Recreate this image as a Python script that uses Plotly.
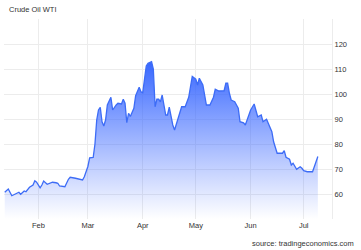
import plotly.graph_objects as go

# Crude Oil WTI daily prices
dates = [
    "2022-01-13", "2022-01-15", "2022-01-17", "2022-01-19", "2022-01-21", "2022-01-22",
    "2022-01-24", "2022-01-25", "2022-01-27", "2022-01-29", "2022-01-30", "2022-01-31",
    "2022-02-02", "2022-02-03", "2022-02-04", "2022-02-06", "2022-02-08", "2022-02-09",
    "2022-02-11", "2022-02-12", "2022-02-13", "2022-02-16", "2022-02-18", "2022-02-19",
    "2022-02-22", "2022-02-24", "2022-02-26", "2022-02-27", "2022-03-01", "2022-03-02",
    "2022-03-04", "2022-03-05", "2022-03-06", "2022-03-07", "2022-03-08", "2022-03-09",
    "2022-03-10", "2022-03-11", "2022-03-12", "2022-03-14", "2022-03-15", "2022-03-17",
    "2022-03-18", "2022-03-20", "2022-03-21", "2022-03-22", "2022-03-23", "2022-03-24",
    "2022-03-25", "2022-03-27", "2022-03-28", "2022-03-30", "2022-03-31", "2022-04-01",
    "2022-04-03", "2022-04-04", "2022-04-06", "2022-04-07", "2022-04-08", "2022-04-09",
    "2022-04-10", "2022-04-11", "2022-04-12", "2022-04-14", "2022-04-15", "2022-04-16",
    "2022-04-18", "2022-04-19", "2022-04-21", "2022-04-23", "2022-04-25", "2022-04-27",
    "2022-04-28", "2022-04-29", "2022-05-01", "2022-05-02", "2022-05-03", "2022-05-05",
    "2022-05-07", "2022-05-09", "2022-05-11", "2022-05-12", "2022-05-14", "2022-05-16",
    "2022-05-17", "2022-05-18", "2022-05-19", "2022-05-20", "2022-05-21", "2022-05-23",
    "2022-05-25", "2022-05-26", "2022-05-28", "2022-05-29", "2022-05-31", "2022-06-01",
    "2022-06-03", "2022-06-04", "2022-06-05", "2022-06-07", "2022-06-08", "2022-06-10",
    "2022-06-11", "2022-06-13", "2022-06-14", "2022-06-16", "2022-06-18", "2022-06-19",
    "2022-06-20", "2022-06-21", "2022-06-23", "2022-06-24", "2022-06-25", "2022-06-26",
    "2022-06-27", "2022-06-29", "2022-06-30", "2022-07-01", "2022-07-03", "2022-07-05",
    "2022-07-06", "2022-07-07", "2022-07-09",
]
prices = [
    60.7, 62.0, 59.3, 59.9, 60.7, 59.9,
    61.2, 60.9, 62.7, 63.6, 65.3, 64.7,
    62.5, 63.6, 65.2, 63.9, 64.3, 64.7,
    64.5, 64.3, 63.2, 62.9, 65.9, 66.7,
    66.3, 65.9, 65.6, 66.9, 71.0, 74.5,
    74.6, 80.0, 89.6, 93.6, 94.7, 88.9,
    87.2, 89.6, 95.6, 98.7, 93.6, 95.6,
    96.3, 96.0, 97.9, 96.3, 88.5, 92.3,
    91.0, 94.3, 99.3, 102.7, 100.9, 100.5,
    111.2, 112.3, 112.9, 110.0, 94.9, 97.9,
    97.9, 96.9, 99.6, 91.6, 91.6, 94.7,
    87.6, 85.6, 90.3, 94.9, 94.9, 98.7,
    102.9, 107.0, 105.9, 103.6, 106.3, 103.6,
    95.6, 95.6, 98.7, 101.9, 101.2, 101.2,
    101.3, 104.3, 104.3, 100.3, 97.6, 96.9,
    94.3, 88.9, 88.5, 87.6, 91.6, 93.6,
    96.0, 93.6, 90.9, 91.6, 88.9, 89.9,
    88.0, 84.9, 80.9, 76.3, 76.3, 76.3,
    77.3, 74.7, 73.9, 71.6, 72.3, 70.9,
    69.9, 70.9, 70.3, 69.3, 68.9, 68.9,
    68.9, 70.9, 75.0,
]
y_ticks = [50, 60, 70, 80, 90, 100, 110, 120, 130]
y_labels = ["", "60", "70", "80", "90", "100", "110", "120", ""]

FONT = "Liberation Sans, Arial, sans-serif"
TXT = "#333333"
GRID = "#ececec"

fig = go.Figure()
fig.add_trace(go.Scatter(
    x=dates, y=prices, mode="lines",
    line=dict(color="#3d6cf6", width=1.3),
    fill="tozeroy",
    fillgradient=dict(
        type="vertical",
        colorscale=[[0, "rgba(70,110,255,0.0)"], [0.5, "rgba(60,105,255,0.5)"],
                    [1, "rgba(45,95,255,0.97)"]],
        start=50, stop=114,
    ),
    hoverinfo="skip",
    showlegend=False,
))

fig.update_layout(
    width=361, height=250,
    margin=dict(l=4, r=29, t=19, b=31),
    paper_bgcolor="white", plot_bgcolor="white",
    font=dict(family=FONT, size=7.5, color=TXT),
    xaxis=dict(
        type="date",
        range=["2022-01-12 14:00", "2022-07-17"],
        dtick="M1", tick0="2022-01-01", tickformat="%b",
        showgrid=True, gridcolor=GRID, gridwidth=1,
        zeroline=False, showline=False, ticks="",
        tickfont=dict(family=FONT, size=7.5, color=TXT),
        fixedrange=True,
    ),
    yaxis=dict(
        side="right", range=[50, 130],
        tickmode="array", tickvals=y_ticks, ticktext=y_labels,
        showgrid=True, gridcolor=GRID, gridwidth=1,
        zeroline=False, showline=True, linecolor=GRID, linewidth=1,
        ticks="", tickfont=dict(family=FONT, size=7.5, color=TXT),
        fixedrange=True,
    ),
    annotations=[
        dict(text="Crude Oil WTI", xref="paper", yref="paper",
             x=0, y=1, xshift=3, yshift=10, xanchor="left", yanchor="middle",
             showarrow=False, font=dict(family=FONT, size=7.5, color=TXT)),
        dict(text="source: tradingeconomics.com", xref="paper", yref="paper",
             x=1, y=0, xshift=24, yshift=-24, xanchor="right", yanchor="middle",
             showarrow=False, font=dict(family=FONT, size=7.5, color=TXT)),
    ],
)

fig.write_html("out.html")
